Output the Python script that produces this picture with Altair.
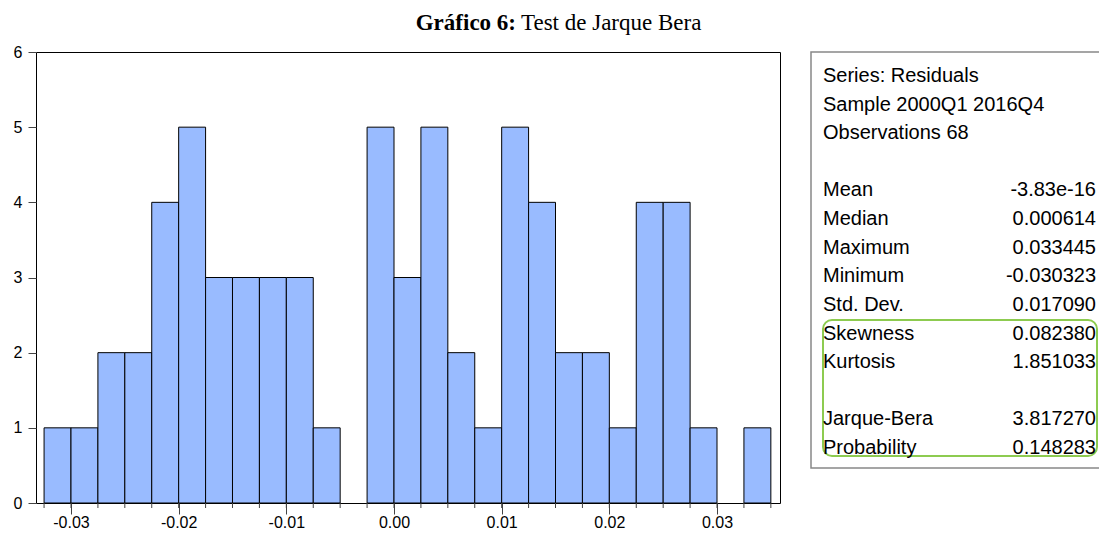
import altair as alt
import pandas as pd

# ---- data ----
bin_left = [-0.0325, -0.03, -0.0275, -0.025, -0.0225, -0.02, -0.0175, -0.015, -0.0125,
            -0.01, -0.0075, -0.005, -0.0025, 0.0, 0.0025, 0.005, 0.0075, 0.01, 0.0125,
            0.015, 0.0175, 0.02, 0.0225, 0.025, 0.0275, 0.03, 0.0325]
bin_width = 0.0025
counts = [1, 1, 2, 2, 4, 5, 3, 3, 3, 3, 1, 0, 5, 3, 5, 2, 1, 5, 4, 2, 2, 1, 4, 4, 1, 0, 1]

x_minor_ticks = [-0.0325, -0.03, -0.0275, -0.025, -0.0225, -0.02, -0.0175, -0.015, -0.0125,
                 -0.01, -0.0075, -0.005, -0.0025, 0.0, 0.0025, 0.005, 0.0075, 0.01, 0.0125,
                 0.015, 0.0175, 0.02, 0.0225, 0.025, 0.0275, 0.03, 0.0325, 0.035]
x_major_ticks = [-0.03, -0.02, -0.01, 0.0, 0.01, 0.02, 0.03]
y_tick_values = [0, 1, 2, 3, 4, 5, 6]

stat_rows = [0, 1, 2, 4, 5, 6, 7, 8, 9, 10, 12, 13]
stat_labels = ["Series: Residuals", "Sample 2000Q1 2016Q4", "Observations 68",
               "Mean", "Median", "Maximum", "Minimum", "Std. Dev.",
               "Skewness", "Kurtosis", "Jarque-Bera", "Probability"]
stat_values = ["", "", "", "-3.83e-16", "0.000614", "0.033445", "-0.030323", "0.017090",
               "0.082380", "1.851033", "3.817270", "0.148283"]

title_bold = "Gráfico 6:"
title_rest = "Test de Jarque Bera"

# ---- tables ----
bars = pd.DataFrame({
    "left": bin_left,
    "right": [b + bin_width for b in bin_left],
    "count": counts,
})
bars = bars[bars["count"] > 0]
minors = pd.DataFrame({"v": x_minor_ticks})
stats = pd.DataFrame({"row": stat_rows, "label": stat_labels, "value": stat_values})
one = pd.DataFrame({"k": [0]})

W, H = 744, 451
xscale = alt.Scale(domain=[-0.03325, 0.03585], nice=False, zero=False)
yscale = alt.Scale(domain=[0, 6], nice=False, zero=True)

xaxis = alt.Axis(
    values=x_major_ticks, tickSize=11, labelPadding=0, grid=False, domain=False,
    labelExpr="(datum.value < -1e-9 ? '-' : '') + format(abs(datum.value), '.2f')",
    labelFont="Liberation Sans", labelFontSize=16, labelColor="black",
    labelOverlap=False, labelFlush=False, tickColor="#444", title=None,
)
yaxis = alt.Axis(
    values=y_tick_values, tickSize=8, labelPadding=6, grid=False, domain=False,
    format="d", labelFont="Liberation Sans", labelFontSize=16, labelColor="black",
    tickColor="#444", title=None,
)

hist = alt.Chart(bars).mark_rect(fill="#99BBFF", stroke="black", strokeWidth=1).encode(
    x=alt.X("left:Q", scale=xscale, axis=xaxis),
    x2="right:Q",
    y=alt.Y("count:Q", scale=yscale, axis=yaxis),
    y2=alt.datum(0),
)

minor_ticks = alt.Chart(minors).mark_rule(color="#444", strokeWidth=1).encode(
    x=alt.X("v:Q", scale=xscale),
    y=alt.value(H),
    y2=alt.value(H + 5),
)

stats_box = alt.Chart(one).mark_rect(fill="white", fillOpacity=0, stroke="#888888", strokeWidth=1.5).encode(
    x=alt.value(775), x2=alt.value(1075), y=alt.value(0), y2=alt.value(416),
)

green_box = alt.Chart(one).mark_rect(fillOpacity=0, fill="white", stroke="#8DCB50",
                                      strokeWidth=2, cornerRadius=9).encode(
    x=alt.value(787), x2=alt.value(1061), y=alt.value(268), y2=alt.value(404),
)

row_scale = alt.Scale(domain=[0, 13], range=[24, 396])
stat_lab = alt.Chart(stats).mark_text(align="left", baseline="middle", font="Liberation Sans",
                                      fontSize=20, color="black").encode(
    x=alt.value(787),
    y=alt.Y("row:Q", scale=row_scale, axis=None),
    text="label:N",
)
stat_val = alt.Chart(stats).mark_text(align="right", baseline="middle", font="Liberation Sans",
                                      fontSize=20, color="black").encode(
    x=alt.value(1060),
    y=alt.Y("row:Q", scale=row_scale, axis=None),
    text="value:N",
)

t_bold = alt.Chart(one).mark_text(align="right", baseline="alphabetic", font="Liberation Serif",
                                  fontSize=23, fontWeight="bold", color="black").encode(
    x=alt.value(480), y=alt.value(-22), text=alt.value(title_bold),
)
t_rest = alt.Chart(one).mark_text(align="left", baseline="alphabetic", font="Liberation Serif",
                                  fontSize=23, color="black").encode(
    x=alt.value(485), y=alt.value(-22), text=alt.value(title_rest),
)

chart = alt.layer(
    hist, minor_ticks, stats_box, green_box, stat_lab, stat_val, t_bold, t_rest
).resolve_scale(y="independent").properties(
    width=W, height=H,
    autosize=alt.AutoSizeParams(type="none"),
    padding={"left": 28, "top": 44, "right": 319, "bottom": 27},
    background="white",
).configure_view(stroke="black", strokeWidth=1)

chart.save("out.html", embed_options={"renderer": "svg", "actions": False})
